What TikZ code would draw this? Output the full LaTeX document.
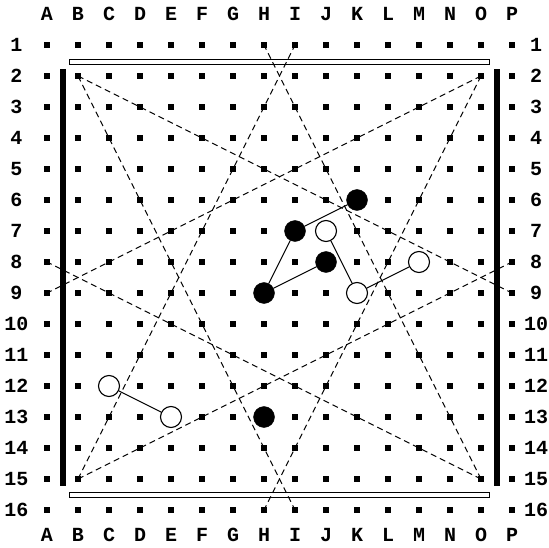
\documentclass[tikz,border=0pt]{standalone}
\usepackage{fontspec}
\setmonofont{Liberation Mono}
\usetikzlibrary{positioning}
\tikzset{
  hole/.style={fill=black, inner sep=0pt, minimum size=5.5pt},
  boardlabel/.style={font=\fontsize{20}{20}\selectfont\ttfamily\bfseries, inner sep=0pt},
  guide/.style={dash pattern=on 6pt off 4pt, line width=1pt},
  link/.style={line width=1.1pt},
  blackpeg/.style={circle, draw, fill=black, minimum size=21pt, inner sep=0pt},
  whitepeg/.style={circle, draw, fill=white, line width=1.1pt, minimum size=21pt, inner sep=0pt},
  blackbar/.style={fill=black, inner sep=0pt, minimum width=6pt, minimum height=417pt},
  whitebar/.style={draw, fill=white, line width=0.9pt, inner sep=0pt, minimum width=420pt, minimum height=5pt},
}

\begin{document}
\begin{tikzpicture}[x=1pt, y=-1pt]
  \useasboundingbox (0,0) rectangle (549,548);
  % holes and coordinates labels
  \foreach \c [count=\i from 0] in {A,B,C,D,E,F,G,H,I,J,K,L,M,N,O,P} {
    \node[boardlabel] (top\c) at ({47+31*\i},14) {\c};
    \node[boardlabel] (bot\c) at ({47+31*\i},535) {\c};
    \foreach \r in {1,...,16}
      \node[hole] (\c\r) at ({47+31*\i},{45+31*(\r-1)}) {};
  }
  \foreach \r in {1,...,16} {
    \node[boardlabel] (left\r) at (16.5,{45+31*(\r-1)}) {\r};
    \node[boardlabel] (right\r) at (536,{45+31*(\r-1)}) {\r};
  }
  % border lines
  \node[blackbar] (leftbar) at (62.5,277.5) {};
  \node[blackbar] (rightbar) at (496.5,277.5) {};
  \node[whitebar] (topbar) at (279,62) {};
  \node[whitebar] (botbar) at (279,495) {};
  % guide lines
  \draw[guide] (B2.center) -- (P9.center);
  \draw[guide] (B2.center) -- (I16.center);
  \draw[guide] (O2.center) -- (A9.center);
  \draw[guide] (O2.center) -- (H16.center);
  \draw[guide] (B15.center) -- (P8.center);
  \draw[guide] (B15.center) -- (I1.center);
  \draw[guide] (O15.center) -- (A8.center);
  \draw[guide] (O15.center) -- (H1.center);
  % pegs
  \node[blackpeg] (pK6) at (K6) {};
  \node[blackpeg] (pI7) at (I7) {};
  \node[blackpeg] (pJ8) at (J8) {};
  \node[blackpeg] (pH9) at (H9) {};
  \node[blackpeg] (pH13) at (H13) {};
  \node[whitepeg] (pJ7) at (J7) {};
  \node[whitepeg] (pK9) at (K9) {};
  \node[whitepeg] (pM8) at (M8) {};
  \node[whitepeg] (pC12) at (C12) {};
  \node[whitepeg] (pE13) at (E13) {};
  % links
  \draw[link] (pK6) -- (pI7);
  \draw[link] (pI7) -- (pH9);
  \draw[link] (pH9) -- (pJ8);
  \draw[link] (pJ7) -- (pK9);
  \draw[link] (pK9) -- (pM8);
  \draw[link] (pC12) -- (pE13);
\end{tikzpicture}
\end{document}
